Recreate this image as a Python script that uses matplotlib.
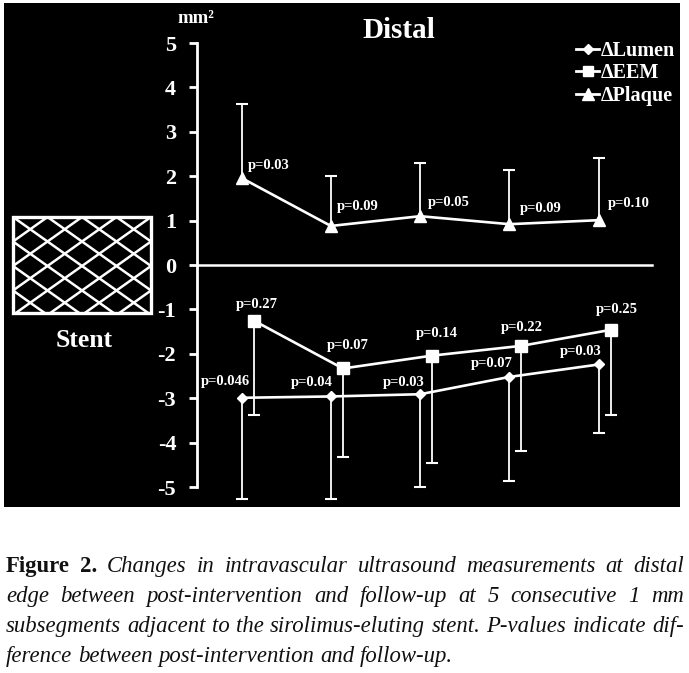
import matplotlib
matplotlib.use("Agg")
import matplotlib.pyplot as plt
from matplotlib.lines import Line2D
from matplotlib.patches import Rectangle
import numpy as np

plt.rcParams["font.family"] = ["Liberation Serif", "DejaVu Serif"]
plt.rcParams["axes.unicode_minus"] = False

W, H = 689, 673

# 1 mm subsegments distal to the stent
segments = [1, 2, 3, 4, 5]

lumen_mean = [-2.99, -2.96, -2.91, -2.52, -2.24]
lumen_sd = [2.28, 2.31, 2.09, 2.34, 1.54]
lumen_p = ["p=0.046", "p=0.04", "p=0.03", "p=0.07", "p=0.03"]

eem_mean = [-1.25, -2.33, -2.04, -1.82, -1.46]
eem_sd = [2.13, 1.99, 2.41, 2.37, 1.92]
eem_p = ["p=0.27", "p=0.07", "p=0.14", "p=0.22", "p=0.25"]

plaque_mean = [1.96, 0.88, 1.10, 0.92, 1.01]
plaque_sd = [1.67, 1.13, 1.19, 1.22, 1.41]
plaque_p = ["p=0.03", "p=0.09", "p=0.05", "p=0.09", "p=0.10"]

y_ticks = [5, 4, 3, 2, 1, 0, -1, -2, -3, -4, -5]

caption_lines = [
    "Figure 2. Changes in intravascular ultrasound measurements at distal",
    "edge between post-intervention and follow-up at 5 consecutive 1 mm",
    "subsegments adjacent to the sirolimus-eluting stent. P-values indicate dif-",
    "ference between post-intervention and follow-up.",
]
n_bold_words = 2

# label offsets in pixels (dx, dy) from each point
plaque_off = [(6, 13), (6, 19), (8, 14), (10, 16), (9, 17)]
lumen_off = [(8, 16), (2, 14), (4, 12), (3, 13), (3, 13)]
eem_off = [(3, 16), (5, 23), (5, 22), (0, 18), (6, 20)]


def fx(x):
    return x / W


def fy(y):
    return 1 - y / H


fig = plt.figure(figsize=(W / 100, H / 100), dpi=100, facecolor="white")

# black panel behind the chart
fig.patches.append(Rectangle((fx(4), fy(507)), fx(676), 504 / H,
                             transform=fig.transFigure, facecolor="black",
                             edgecolor="none", zorder=-10))

# main axes: y = 0 at 265 px, 44.4 px per unit
ax = fig.add_axes([fx(197), fy(504.8), 477.5 / W, 475.1 / H])
ax.set_facecolor("none")
ax.set_xlim(0.5, 5.85)
ax.set_ylim(-5.4, 5.3)

x = np.array(segments, dtype=float)
x_eem = x + 0.135

white = "white"
# error bars (one-sided)
ax.vlines(x, plaque_mean, np.array(plaque_mean) + np.array(plaque_sd), color=white, lw=1.3)
ax.plot(x, np.array(plaque_mean) + np.array(plaque_sd), ls="none", marker="_", ms=9, mew=1.5, color=white)
ax.vlines(x, lumen_mean, np.array(lumen_mean) - np.array(lumen_sd), color=white, lw=1.3)
ax.plot(x, np.array(lumen_mean) - np.array(lumen_sd), ls="none", marker="_", ms=9, mew=1.5, color=white)
ax.vlines(x_eem, eem_mean, np.array(eem_mean) - np.array(eem_sd), color=white, lw=1.3)
ax.plot(x_eem, np.array(eem_mean) - np.array(eem_sd), ls="none", marker="_", ms=9, mew=1.5, color=white)

# zero line
ax.plot([0.5, 5.6], [0, 0], color=white, lw=1.8)

ax.plot(x, lumen_mean, color=white, lw=1.9, marker="D", ms=5.5, zorder=4)
ax.plot(x_eem, eem_mean, color=white, lw=1.9, marker="s", ms=8.5, zorder=4)
ax.plot(x, plaque_mean, color=white, lw=1.9, marker="^", ms=9, zorder=4)

lab_kw = dict(textcoords="offset pixels", color=white, fontsize=10.5,
              fontweight="bold", va="center")
for xi, yi, t, o in zip(x, plaque_mean, plaque_p, plaque_off):
    ax.annotate(t, (xi, yi), xytext=o, ha="left", **lab_kw)
for xi, yi, t, o in zip(x, lumen_mean, lumen_p, lumen_off):
    ax.annotate(t, (xi, yi), xytext=o, ha="right", **lab_kw)
for xi, yi, t, o in zip(x_eem, eem_mean, eem_p, eem_off):
    ax.annotate(t, (xi, yi), xytext=o, ha="center", **lab_kw)

# axis styling
for s in ["top", "right", "bottom"]:
    ax.spines[s].set_visible(False)
ax.spines["left"].set_color(white)
ax.spines["left"].set_linewidth(2)
ax.spines["left"].set_bounds(-5, 5)
ax.set_xticks([])
ax.set_yticks(y_ticks)
ax.tick_params(axis="y", colors=white, length=6, width=2, pad=9, labelsize=16)
for lab in ax.get_yticklabels():
    lab.set_fontweight("bold")

handles = [
    Line2D([], [], color=white, lw=2, marker="D", ms=5),
    Line2D([], [], color=white, lw=2, marker="s", ms=7),
    Line2D([], [], color=white, lw=2, marker="^", ms=8),
]
ax.legend(handles, ["\u0394Lumen", "\u0394EEM", "\u0394Plaque"],
          loc="upper left", bbox_to_anchor=(fx(576), fy(41)),
          bbox_transform=fig.transFigure, frameon=False,
          prop=dict(weight="bold", size=14.5), labelcolor=white,
          handlelength=1.15, handletextpad=0.1, labelspacing=0.12,
          borderpad=0, borderaxespad=0)

fig.text(fx(399), fy(38), "Distal", color=white, fontsize=21,
         fontweight="bold", ha="center", va="baseline")
fig.text(fx(177), fy(23), "mm\u00b2", color=white, fontsize=13.5,
         fontweight="bold", ha="left", va="baseline")

# stent drawing
sax = fig.add_axes([fx(13), fy(313), 138 / W, 96 / H])
sax.set_xlim(0, 138)
sax.set_ylim(96, 0)
sax.set_facecolor("black")
sax.axis("off")
w, s = 34.5, 0.71
xs = np.array([-200, 400])
for n in range(-6, 12):
    sax.plot(xs, s * (xs - n * w), color=white, lw=1.8)
    sax.plot(xs, -s * (xs - n * w), color=white, lw=1.8)
sax.add_patch(Rectangle((0, 0), 138, 96, fill=False, edgecolor=white, lw=2.4, clip_on=False))
fig.text(fx(84), fy(347), "Stent", color=white, fontsize=18.5,
         fontweight="bold", ha="center", va="baseline")

# caption, justified
fig.canvas.draw()
renderer = fig.canvas.get_renderer()
cap_left, cap_right = 6, 684
cap_baselines = [572, 602, 632, 662]


def text_width(txt, **kw):
    t = fig.text(0, 0, txt, **kw)
    wdt = t.get_window_extent(renderer).width
    t.remove()
    return wdt


fs = 30
for i, line in enumerate(caption_lines[:-1]):
    words = line.split()
    tot = 0
    for j, wd in enumerate(words):
        kw = dict(fontweight="bold") if (i == 0 and j < n_bold_words) else dict(style="italic")
        tot += text_width(wd, fontsize=10, **kw)
    tot += (len(words) - 1) * text_width("a a", fontsize=10, style="italic") - (len(words) - 1) * text_width("aa", fontsize=10, style="italic")
    fs = min(fs, 10 * (cap_right - cap_left) / tot * 0.995)

for i, line in enumerate(caption_lines):
    words = line.split()
    styles = []
    for j, wd in enumerate(words):
        if i == 0 and j < n_bold_words:
            styles.append(dict(fontweight="bold"))
        else:
            styles.append(dict(style="italic"))
    widths = [text_width(wd, fontsize=fs, **st) for wd, st in zip(words, styles)]
    if i < len(caption_lines) - 1:
        gap = (cap_right - cap_left - sum(widths)) / (len(words) - 1)
    else:
        gap = text_width("a a", fontsize=fs, style="italic") - text_width("aa", fontsize=fs, style="italic")
    xpos = cap_left
    for wd, st, wdt in zip(words, styles, widths):
        fig.text(fx(xpos), fy(cap_baselines[i]), wd, fontsize=fs, color="#111111",
                 ha="left", va="baseline", **st)
        xpos += wdt + gap

fig.savefig("out.png", dpi=100, facecolor="white")
